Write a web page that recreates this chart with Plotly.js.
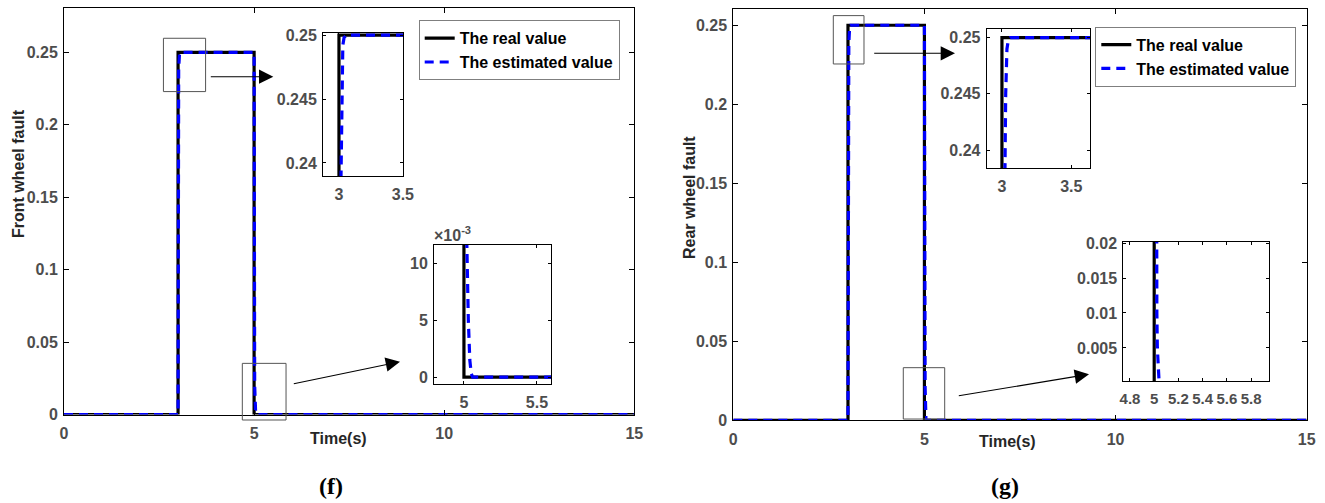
<!DOCTYPE html>
<html>
<head>
<meta charset="utf-8">
<script src="https://cdn.plot.ly/plotly-3.0.1.min.js"></script>
<style>
  html, body { margin: 0; padding: 0; background: #fff; }
  #chart { width: 1325px; height: 503px; }
</style>
</head>
<body>
<div id="chart"></div>
<script>
// ---- data: wheel fault signals (real and estimated) ----
const timeReal = [0, 3, 3, 5, 5, 15];
const frontReal = [0, 0, 0.25, 0.25, 0, 0];
const rearReal = [0, 0, 0.25, 0.25, 0, 0];

const timeEstFront = [0, 3.0, 3.016, 3.023, 3.03, 3.04, 3.06, 5.0, 5.015, 5.02, 5.03, 5.04, 5.05, 5.06, 15];
const frontEst = [0, 0, 0.239, 0.245, 0.2492, 0.2498, 0.25, 0.25, 0.02, 0.0115, 0.005, 0.0015, 0.0003, 0, 0];

const timeEstRear = [0, 3.0, 3.022, 3.027, 3.036, 3.045, 3.06, 5.0, 5.018, 5.022, 5.026, 5.032, 5.04, 5.05, 15];
const rearEst = [0, 0, 0.2384, 0.245, 0.249, 0.2497, 0.25, 0.25, 0.021, 0.01, 0.005, 0.002, 0.0003, 0, 0];

const seriesNames = ['The real value', 'The estimated value'];
const mainTicksX = [0, 5, 10, 15];
const insetLeft2TickVals = [0, 0.005, 0.01];
const insetLeft2TickText = ['0', '5', '10'];

// ---- layout geometry (pixels in a 1325 x 503 page) ----
const W = 1325, H = 503;
const panels = {
  mainL: { box: [64, 634.3, 8, 414.5], xr: [0, 15], yr: [0, 0.2806] },
  insL1: { box: [323, 403, 33, 176], xr: [2.875, 3.501], yr: [0.23898, 0.25016] },
  insL2: { box: [434, 551, 245, 384], xr: [4.795, 5.596], yr: [-0.00061, 0.01158] },
  mainR: { box: [733.3, 1306.7, 9.3, 420.3], xr: [0, 15], yr: [0, 0.2601] },
  insR1: { box: [986.7, 1090, 28.7, 168], xr: [2.89, 3.635], yr: [0.2384, 0.2508] },
  insR2: { box: [1123.3, 1269.3, 241.7, 381], xr: [4.745, 5.95], yr: [0.00027, 0.0202] }
};
function domX(p) { return [p.box[0] / W, p.box[1] / W]; }
function domY(p) { return [1 - p.box[3] / H, 1 - p.box[2] / H]; }
function paperX(p, v) { return (p.box[0] + (v - p.xr[0]) / (p.xr[1] - p.xr[0]) * (p.box[1] - p.box[0])) / W; }
function paperY(p, v) { return 1 - (p.box[3] - (v - p.yr[0]) / (p.yr[1] - p.yr[0]) * (p.box[3] - p.box[2])) / H; }

const tickFont = { family: 'Liberation Sans, Arial, sans-serif', size: 16, weight: 'bold', color: '#4d4d4d' };
const denseTickFont = { family: 'Liberation Sans, Arial, sans-serif', size: 15, weight: 'bold', color: '#4d4d4d' };

function axis(p, isX, extra) {
  return Object.assign({
    domain: isX ? domX(p) : domY(p),
    range: isX ? p.xr : p.yr,
    showline: true, linecolor: '#000', linewidth: 1, mirror: 'ticks',
    ticks: 'inside', ticklen: 5, tickcolor: '#000', tickwidth: 1,
    showgrid: false, zeroline: false, fixedrange: true, tickangle: 0,
    tickfont: tickFont, ticklabelstandoff: isX ? 4 : 2
  }, extra || {});
}

// ---- traces ----
const realLine = { color: '#000000', width: 3.2 };
const estLine = { color: '#0000ff', width: 3.2, dash: '9px,6px' };

function pair(tr, yr, te, ye, xa, ya, legendId, show) {
  return [
    { x: tr, y: yr, xaxis: xa, yaxis: ya, mode: 'lines', line: realLine, name: seriesNames[0],
      showlegend: show, legend: legendId, hoverinfo: 'skip' },
    { x: te, y: ye, xaxis: xa, yaxis: ya, mode: 'lines', line: estLine, name: seriesNames[1],
      showlegend: show, legend: legendId, hoverinfo: 'skip' }
  ];
}

const data = [].concat(
  pair(timeReal, frontReal, timeEstFront, frontEst, 'x', 'y', 'legend', true),
  pair(timeReal, frontReal, timeEstFront, frontEst, 'x2', 'y2', 'legend', false),
  pair(timeReal, frontReal, timeEstFront, frontEst, 'x3', 'y3', 'legend', false),
  pair(timeReal, rearReal, timeEstRear, rearEst, 'x4', 'y4', 'legend2', true),
  pair(timeReal, rearReal, timeEstRear, rearEst, 'x5', 'y5', 'legend2', false),
  pair(timeReal, rearReal, timeEstRear, rearEst, 'x6', 'y6', 'legend2', false)
);

// ---- zoom windows marked on the main plots ----
const zoomBoxes = [
  { p: panels.mainL, x: [2.615, 3.724], y: [0.2229, 0.2597] },
  { p: panels.mainL, x: [4.69, 5.84], y: [-0.0038, 0.0353] },
  { p: panels.mainR, x: [2.616, 3.419], y: [0.2255, 0.2561] },
  { p: panels.mainR, x: [4.447, 5.53], y: [0.0008, 0.0333] }
];
const shapes = zoomBoxes.map(b => ({
  type: 'rect', xref: 'paper', yref: 'paper',
  x0: paperX(b.p, b.x[0]), x1: paperX(b.p, b.x[1]),
  y0: paperY(b.p, b.y[0]), y1: paperY(b.p, b.y[1]),
  line: { color: '#555555', width: 1 }, fillcolor: 'rgba(0,0,0,0)'
}));

// arrows from each zoom window to its inset: [tailX, tailY, headX, headY]
const arrows = [
  [209.3, 76.7, 273.3, 76.7],
  [292.3, 384, 400, 361.7],
  [872.7, 53.3, 955, 53.3],
  [957.3, 396, 1089, 374.3]
];
const annotations = arrows.map(a => ({
  xref: 'paper', yref: 'paper', x: a[2] / W, y: 1 - a[3] / H,
  ax: a[0] - a[2], ay: a[1] - a[3], axref: 'pixel', ayref: 'pixel',
  text: '', showarrow: true, arrowhead: 2, arrowsize: 2.6, arrowwidth: 1.1,
  arrowcolor: '#000', standoff: 0
}));

const titleFont = { family: 'Liberation Sans, Arial, sans-serif', size: 16, weight: 'bold', color: '#262626' };
const captionFont = { family: 'Liberation Serif, Times New Roman, serif', size: 24, weight: 'bold', color: '#000' };
function label(text, x, y, font, angle) {
  return { xref: 'paper', yref: 'paper', x: x / W, y: 1 - y / H, text: text, showarrow: false,
           font: font, textangle: angle || 0, xanchor: 'center', yanchor: 'middle' };
}
annotations.push(
  label('Time(s)', 338, 438, titleFont),
  label('Time(s)', 1007, 441, titleFont),
  label('Front wheel fault', 18, 174, titleFont, -90),
  label('Rear wheel fault', 690, 198, titleFont, -90),
  label('(f)', 331, 486, captionFont),
  label('(g)', 1005, 486, captionFont),
  { xref: 'paper', yref: 'paper', x: 432 / W, y: 1 - 234 / H, text: '×10<sup>-3</sup>',
    showarrow: false, font: tickFont, xanchor: 'left', yanchor: 'middle' }
);

const legendStyle = {
  bgcolor: '#ffffff', bordercolor: '#7f7f7f', borderwidth: 1,
  font: { family: 'Liberation Sans, Arial, sans-serif', size: 16, weight: 'bold', color: '#000' },
  xanchor: 'left', yanchor: 'top', tracegroupgap: 0, itemclick: false, itemdoubleclick: false
};

const layout = {
  width: W, height: H,
  margin: { l: 0, r: 0, t: 0, b: 0 },
  paper_bgcolor: '#ffffff', plot_bgcolor: '#ffffff',
  showlegend: true,
  legend: Object.assign({ x: 418.7 / W, y: 1 - 20.3 / H }, legendStyle),
  legend2: Object.assign({ x: 1095.3 / W, y: 1 - 26.7 / H }, legendStyle),
  xaxis: axis(panels.mainL, true, { tickvals: mainTicksX, anchor: 'y' }),
  yaxis: axis(panels.mainL, false, { dtick: 0.05, tick0: 0, anchor: 'x' }),
  xaxis2: axis(panels.insL1, true, { dtick: 0.5, tick0: 0, ticklen: 3, anchor: 'y2' }),
  yaxis2: axis(panels.insL1, false, { dtick: 0.005, tick0: 0, ticklen: 3, anchor: 'x2' }),
  xaxis3: axis(panels.insL2, true, { dtick: 0.5, tick0: 0, ticklen: 3, anchor: 'y3' }),
  yaxis3: axis(panels.insL2, false, { tickvals: insetLeft2TickVals, ticktext: insetLeft2TickText, ticklen: 3, anchor: 'x3' }),
  xaxis4: axis(panels.mainR, true, { tickvals: mainTicksX, anchor: 'y4' }),
  yaxis4: axis(panels.mainR, false, { dtick: 0.05, tick0: 0, anchor: 'x4' }),
  xaxis5: axis(panels.insR1, true, { dtick: 0.5, tick0: 0, ticklen: 3, anchor: 'y5' }),
  yaxis5: axis(panels.insR1, false, { dtick: 0.005, tick0: 0, ticklen: 3, anchor: 'x5' }),
  xaxis6: axis(panels.insR2, true, { dtick: 0.2, tick0: 0, ticklen: 3, anchor: 'y6', tickfont: denseTickFont }),
  yaxis6: axis(panels.insR2, false, { dtick: 0.005, tick0: 0, ticklen: 3, anchor: 'x6' }),
  shapes: shapes,
  annotations: annotations
};

Plotly.newPlot('chart', data, layout, { staticPlot: true, displayModeBar: false });
</script>
</body>
</html>
